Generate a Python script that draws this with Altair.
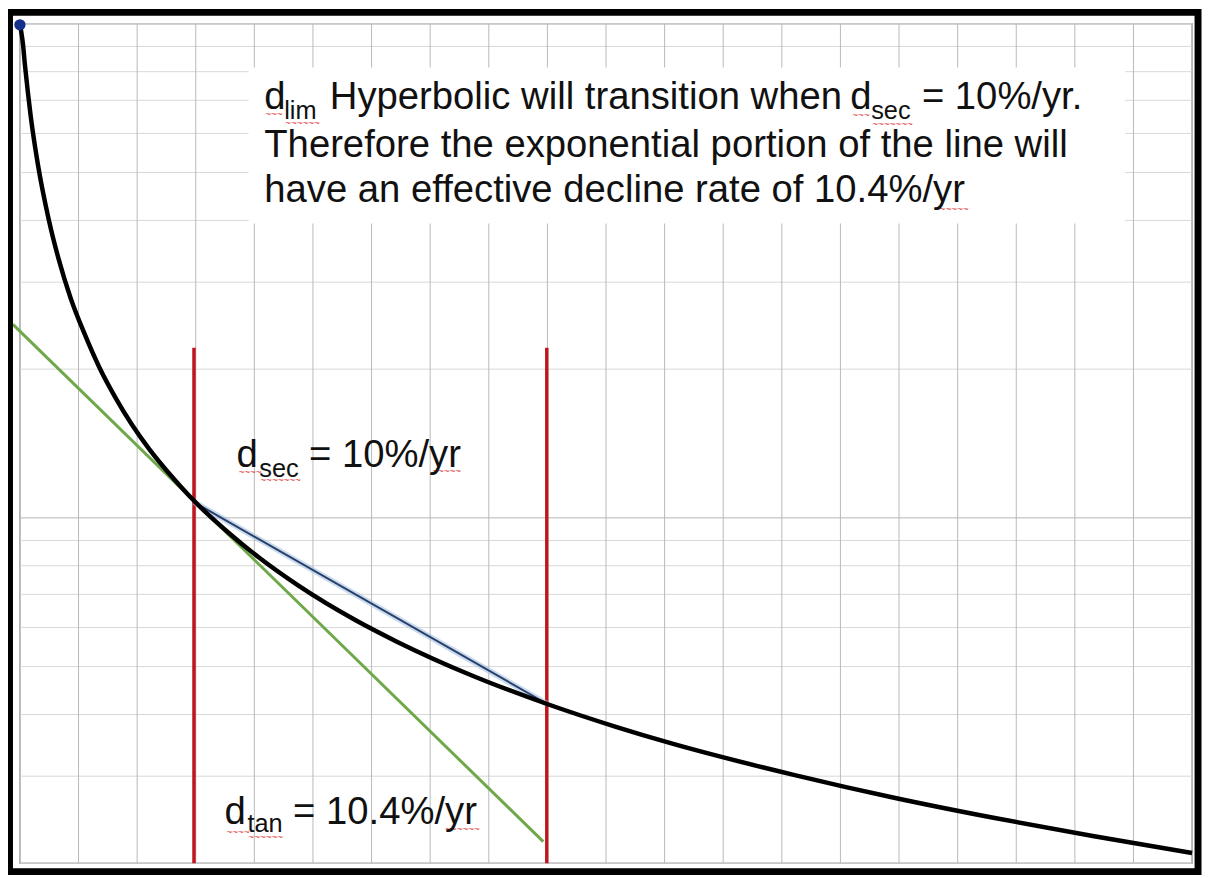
import altair as alt
import pandas as pd

# ---- data ----
curve_x = [0, 0.0254, 0.0508, 0.0847, 0.1356, 0.1864, 0.3051, 0.4915, 0.661, 0.8644,
           1.1017, 1.3559, 1.6271, 1.9153, 2.2034, 2.4915, 2.7458, 3.0, 3.5593,
           4.0678, 4.7458, 5.7288, 6.4407, 7.7119, 8.9831, 10.1695, 11.1017,
           13.2203, 14.9153, 16.6102, 18.3051, 20.0]
curve_q = [995.4, 959.2, 911.8, 827.1, 726.5, 647.2, 520.6, 401.8, 333.9, 278.7,
           235.9, 201.6, 175.4, 154.1, 137.9, 125.1, 115.6, 107.4, 93.3,
           83.3, 73.0, 62.05, 56.1, 47.97, 42.05, 37.76, 34.99,
           30.15, 27.13, 24.71, 22.70, 20.97]

tan_x = [-0.12, 8.93]
tan_q = [246.4, 22.12]

sec_x = [2.97, 8.99]
sec_q = [107.6, 42.05]

marker_x = [2.97, 8.99]
marker_top = [221, 221]
marker_bottom = [20, 20]

start_x = [0]
start_q = [995.4]

x_grid = list(range(0, 21))
y_grid = [20, 30, 40, 50, 60, 70, 80, 90,
          200, 300, 400, 500, 600, 700, 800, 900, 1000]
y_major = [100]

box_x = [3.9]
box_x2 = [18.86]
box_q = [815.6]
box_q2 = [394.4]

main_texts = ["d", "Hyperbolic will transition when", "d", "= 10%/yr.",
              "Therefore the exponential portion of the line will",
              "have an effective decline rate of 10.4%/yr",
              "d", "= 10%/yr",
              "d", "= 10.4%/yr"]
main_x = [4.169, 5.288, 14.169, 15.39, 4.169, 4.169, 3.695, 4.932, 3.492, 4.661]
main_q = [671.6, 671.6, 671.6, 671.6, 537.9, 436.6, 126.9, 126.9, 23.97, 23.97]

sub_texts = ["lim", "sec", "sec", "tan"]
sub_x = [4.508, 14.525, 4.085, 3.881]
sub_q = [641.2, 641.2, 121.1, 23.09]

squiggle_n = [3, 6, 3, 7, 6, 4, 7, 5, 4, 6, 6]
squiggle_x = [4.186, 4.525, 14.203, 14.542, 15.593, 3.729, 4.102, 7.034, 3.525, 3.898, 7.254]
squiggle_q = [647.2, 620.8, 644.2, 617.9, 416.9, 122.3, 117.8, 122.8, 22.78, 22.26, 23.09]

# ---- tables ----
curve_df = pd.DataFrame({"x": curve_x, "q": curve_q})
tan_df = pd.DataFrame({"x": tan_x, "q": tan_q})
sec_df = pd.DataFrame({"x": sec_x, "q": sec_q})
marker_df = pd.DataFrame({"x": marker_x, "top": marker_top, "bottom": marker_bottom})
start_df = pd.DataFrame({"x": start_x, "q": start_q})
box_df = pd.DataFrame({"x": box_x, "x2": box_x2, "q": box_q, "q2": box_q2})
main_df = pd.DataFrame({"x": main_x, "q": main_q, "t": main_texts})
sub_df = pd.DataFrame({"x": sub_x, "q": sub_q, "t": sub_texts})
sq_df = pd.DataFrame({"x": squiggle_x, "q": squiggle_q,
                      "t": ["~" * n for n in squiggle_n]})
xgrid_df = pd.DataFrame({"x": x_grid})
ygrid_df = pd.DataFrame({"q": y_grid})
ymajor_df = pd.DataFrame({"q": y_major})
frame_df = pd.DataFrame({"a": [0]})

xs = alt.Scale(domain=[0, 20], nice=False, zero=False)
ys = alt.Scale(type="log", domain=[20, 1000], nice=False)

X = lambda f: alt.X(f, scale=xs, axis=None)
Y = lambda f: alt.Y(f, scale=ys, axis=None)

ygrid = alt.Chart(ygrid_df).mark_rule(color="#d8d8d8", strokeWidth=1).encode(y=Y("q:Q"))
xgrid = alt.Chart(xgrid_df).mark_rule(color="#b9b9b9", strokeWidth=1).encode(x=X("x:Q"))
ymajor = alt.Chart(ymajor_df).mark_rule(color="#b4b4b4", strokeWidth=1).encode(y=Y("q:Q"))

box = alt.Chart(box_df).mark_rect(color="white").encode(
    x=X("x:Q"), x2="x2:Q", y=Y("q:Q"), y2="q2:Q",
)

markers = alt.Chart(marker_df).mark_rule(color="#bf151d", strokeWidth=3.5).encode(
    x=X("x:Q"), y=Y("top:Q"), y2="bottom:Q",
)

tangent = alt.Chart(tan_df).mark_line(color="#6fa84a", strokeWidth=3, clip=False).encode(
    x=X("x:Q"), y=Y("q:Q")
)

secant_halo = alt.Chart(sec_df).mark_line(color="#a9c1df", strokeWidth=6, opacity=0.6).encode(
    x=X("x:Q"), y=Y("q:Q")
)
secant = alt.Chart(sec_df).mark_line(color="#27406b", strokeWidth=2).encode(
    x=X("x:Q"), y=Y("q:Q")
)

curve = alt.Chart(curve_df).mark_line(color="black", strokeWidth=4.5,
                                      interpolate="monotone").encode(
    x=X("x:Q"), y=Y("q:Q")
)

start = alt.Chart(start_df).mark_point(filled=True, color="#15308a", size=130,
                                       opacity=1, clip=False).encode(
    x=X("x:Q"), y=Y("q:Q")
)

main_text = alt.Chart(main_df).mark_text(
    align="left", baseline="alphabetic", font="Liberation Sans", fontSize=38.5,
    color="#111111").encode(x=X("x:Q"), y=Y("q:Q"), text="t:N")
sub_text = alt.Chart(sub_df).mark_text(
    align="left", baseline="alphabetic", font="Liberation Sans", fontSize=25.5,
    color="#111111").encode(x=X("x:Q"), y=Y("q:Q"), text="t:N")
squiggles = alt.Chart(sq_df).mark_text(
    align="left", baseline="alphabetic", font="Liberation Sans", fontSize=10,
    color="#e03a3a").encode(x=X("x:Q"), y=Y("q:Q"), text="t:N")

frame = alt.Chart(frame_df).mark_rect(filled=False, stroke="black", strokeWidth=7,
                                      clip=False).encode(
    x=alt.value(-10.5), x2=alt.value(1186), y=alt.value(-11.5), y2=alt.value(853.5)
)

chart = alt.layer(
    ygrid, xgrid, ymajor, box, markers, tangent, secant_halo, secant, curve,
    start, squiggles, main_text, sub_text, frame
).properties(
    width=1180, height=845,
    padding={"left": 12, "top": 13, "right": 12, "bottom": 12},
    autosize=alt.AutoSizeParams(type="none"),
    background="white",
).configure_view(stroke="#a3a3a3", strokeWidth=1.5)

chart.save("out.html", embed_options={"renderer": "svg", "actions": False})
